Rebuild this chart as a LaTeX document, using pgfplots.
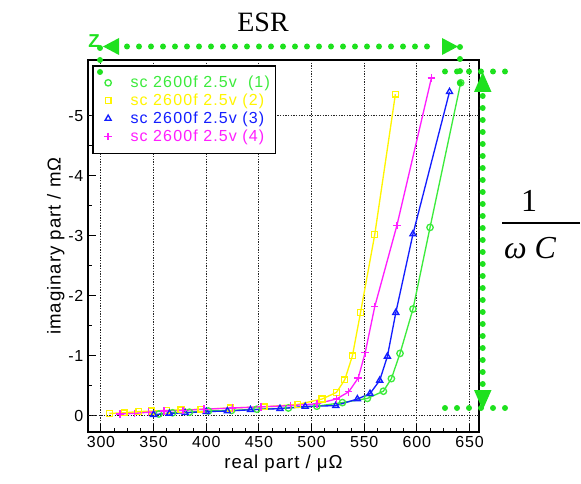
\documentclass[border=0pt]{standalone}
\usepackage{pgfplots}
\pgfplotsset{compat=1.18}
\usepackage{fontspec}
\setmainfont[LetterSpace=5]{Liberation Sans}
\newfontfamily\legfont[LetterSpace=7]{Liberation Sans}
\newfontfamily\seriffont{Liberation Serif}
\definecolor{cg}{RGB}{60,235,60}
\definecolor{cy}{RGB}{255,245,0}
\definecolor{cb}{RGB}{20,30,255}
\definecolor{cm}{RGB}{255,30,255}
\definecolor{ann}{RGB}{30,225,30}
\begin{document}
\begin{tikzpicture}
\path[use as bounding box] (0,0) rectangle (435.75pt,-363pt);
\begin{axis}[
  at={(66pt,-324pt)}, anchor=south west,
  width=293.25pt, height=279pt, scale only axis,
  xmin=287.7, xmax=659, ymin=-5.93, ymax=0.27,
  y dir=reverse,
  axis line style={line width=1.5pt},
  tick pos=left, tick align=inside,
  xtick={300,350,400,450,500,550,600,650},
  xticklabels={300,350,400,450,500,550,600,650},
  ytick={-5,-4,-3,-2,-1,0},
  yticklabels={-5,-4,-3,-2,-1,0},
  minor x tick num=3, minor y tick num=1,
  major tick length=6pt, minor tick length=3pt,
  every tick/.style={black, line width=0.8pt},
  xmajorgrids,
  extra y ticks={-5,0}, extra y tick labels={},
  extra y tick style={grid=major, major tick length=0pt},
  major grid style={black!85, line width=0.7pt, dash pattern=on 1pt off 1pt},
  tick label style={font=\fontsize{12}{14}\selectfont},
  label style={font=\fontsize{14}{16}\selectfont},
  xlabel={real part / μΩ},
  ylabel={imaginary part / mΩ},
  xlabel style={yshift=2pt},
  ylabel style={yshift=-4pt},
  legend style={at={(0.011,0.986)}, anchor=north west, draw=black, line width=1pt,
    font=\legfont\fontsize{12}{14}\selectfont, row sep=0pt, inner ysep=6pt, inner xsep=2pt,
    nodes={inner ysep=1.6pt}},
  legend cell align=left,
  legend image code/.code={\path[draw=none,fill=none] (0cm,0cm) -- (0.85cm,0cm);
    \draw[#1,only marks] plot coordinates {(0.33cm,0cm)};},
]
\addplot[color=cg, line width=1pt, mark=o, mark size=2.4pt] coordinates {
(355,-0.03)(368,-0.05)(384,-0.06)(402,-0.08)(424,-0.09)(448,-0.11)(478,-0.13)(505,-0.16)
(529.3,-0.22)(553,-0.29)(568.2,-0.41)(575.8,-0.62)(584,-1.04)(596.3,-1.78)(612.5,-3.14)(641.6,-5.55)};
\addlegendentry{\textcolor{cg}{sc 2600f 2.5v\ \ (1)}}
\addplot[color=cy, line width=1pt, mark=square, mark size=2.2pt] coordinates {
(308,-0.04)(322,-0.05)(336,-0.07)(348,-0.08)(362,-0.09)(376,-0.10)(395,-0.11)(423,-0.13)
(455,-0.15)(487,-0.19)(510,-0.28)(523.6,-0.39)(531.5,-0.60)(538.8,-1.0)(546.5,-1.72)(560,-3.02)(579.6,-5.36)};
\addlegendentry{\textcolor{cy}{sc 2600f 2.5v (2)}}
\addplot[color=cb, line width=1pt, mark=triangle, mark size=2.6pt] coordinates {
(350,-0.02)(365,-0.04)(380,-0.05)(400,-0.07)(420,-0.08)(442,-0.10)(470,-0.12)(494,-0.155)
(523,-0.17)(543.5,-0.28)(555.5,-0.37)(564.7,-0.59)(572,-0.99)(580,-1.72)(596.3,-3.03)(631,-5.4)};
\addlegendentry{\textcolor{cb}{sc 2600f 2.5v (3)}}
\addplot[color=cm, line width=1pt, mark=+, mark size=2.8pt] coordinates {
(318,-0.03)(332,-0.04)(345,-0.06)(360,-0.08)(378,-0.09)(398,-0.11)(425,-0.13)(452,-0.15)
(480,-0.17)(505,-0.20)(523.6,-0.28)(535.3,-0.40)(544.3,-0.63)(550.9,-1.05)(560,-1.82)(581,-3.17)(613.8,-5.63)};
\addlegendentry{\textcolor{cm}{sc 2600f 2.5v (4)}}
\end{axis}
\begin{scope}[x=0.75pt,y=-0.75pt]
  \tikzset{dots/.style={ann, line width=4.5pt, line cap=round, dash pattern=on 0pt off 9pt}}
  % ESR arrow
  \draw[dots] (127,46.5) -- (432,46.5);
  \fill[ann] (103,46.5) -- (119,38) -- (119,55) -- cycle;
  \fill[ann] (458,46.5) -- (442,38) -- (442,55) -- cycle;
  \draw[dots] (100,48) -- (100,84);
  \draw[dots] (460,47) -- (460,84);
  \node[ann, font=\fontsize{14}{14}\selectfont\bfseries] at (94,41) {Z};
  \node[font=\seriffont\fontsize{21}{21}\selectfont] at (263,22) {ESR};
  % 1/omega C arrow
  \draw[dots] (445,71.5) -- (509,71.5);
  \draw[dots] (445,408) -- (509,408);
  \draw[dots] (482.7,96) -- (482.7,386);
  \fill[ann] (482.7,72) -- (474,92) -- (491.5,92) -- cycle;
  \fill[ann] (482.7,410) -- (474,390) -- (491.5,390) -- cycle;
  \node[font=\seriffont\fontsize{24}{24}\selectfont] at (529,201) {1};
  \draw[line width=0.9pt] (502,223) -- (580,223);
  \node[font=\seriffont\itshape\fontsize{24}{24}\selectfont] at (530,248) {ω\ C};
\end{scope}
\end{tikzpicture}
\end{document}
